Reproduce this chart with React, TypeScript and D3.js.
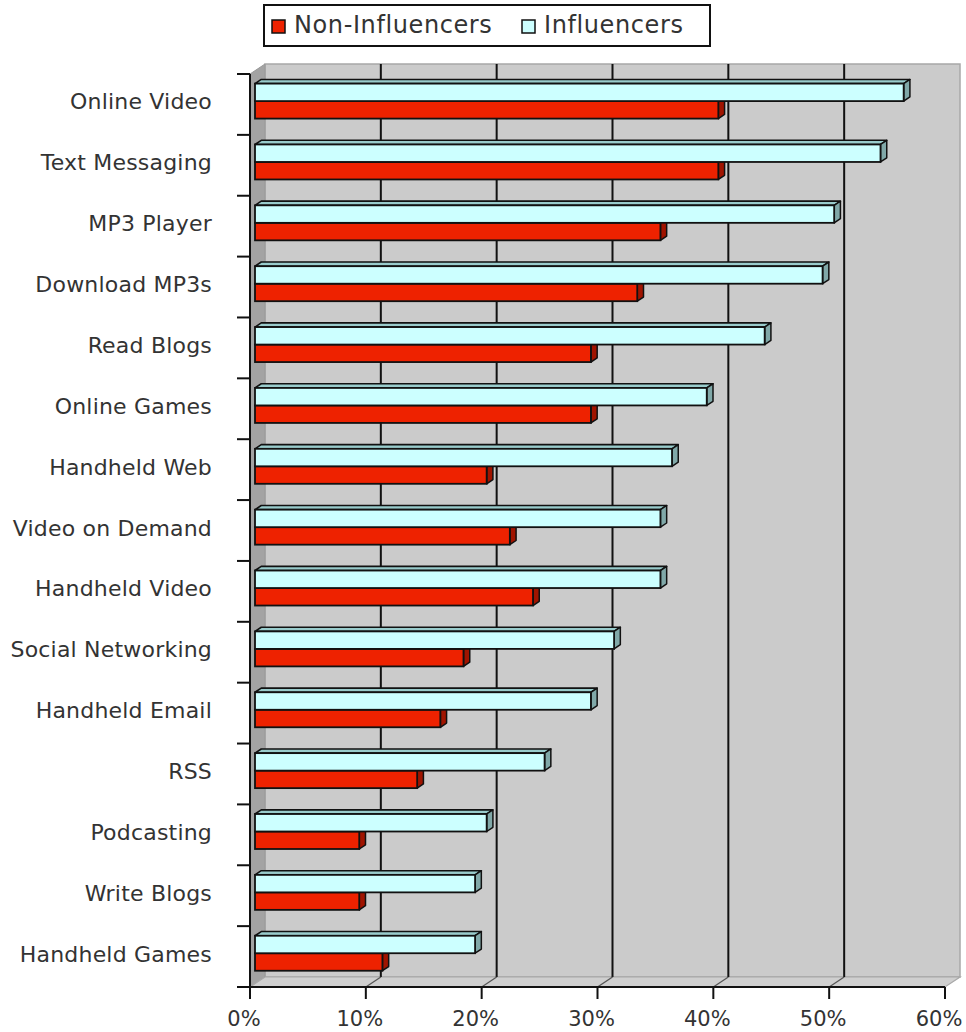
import React from 'react';
import * as d3 from 'd3';

const categories = [
  'Online Video', 'Text Messaging', 'MP3 Player', 'Download MP3s', 'Read Blogs',
  'Online Games', 'Handheld Web', 'Video on Demand', 'Handheld Video', 'Social Networking',
  'Handheld Email', 'RSS', 'Podcasting', 'Write Blogs', 'Handheld Games',
];
const influencers = [56, 54, 50, 49, 44, 39, 36, 35, 35, 31, 29, 25, 20, 19, 19];
const nonInfluencers = [40, 40, 35, 33, 29, 29, 20, 22, 24, 18, 16, 14, 9, 9, 11];
const xTicks = [0, 10, 20, 30, 40, 50, 60];
const seriesNames = ['Non-Influencers', 'Influencers'];

const FONT = '"DejaVu Sans", Verdana, sans-serif';

export default function App() {
  const W = 966, H = 1032;
  const x0 = 250, x1 = 945, yTop = 74, yBot = 987;
  const DX = 15, DY = -10;
  const x = d3.scaleLinear().domain([0, 60]).range([x0, x1]);
  const y = d3.scaleBand().domain(categories).range([yTop, yBot]).padding(0);
  const bw = y.bandwidth();
  const barH = bw * 0.2875;
  const f1 = 1 / 3, f2 = 0.75;
  const ox1 = DX * f1, oy1 = DY * f1;
  const bdx = DX * (f2 - f1), bdy = DY * (f2 - f1);

  const colors = {
    red: { front: '#ee2200', top: '#c01a00', side: '#a01400' },
    cyan: { front: '#ccffff', top: '#99cccc', side: '#80a8a8' },
  };

  const bar = (key: string, v: number, yt: number, c: { front: string; top: string; side: string }) => {
    const xl = x(0) + ox1;
    const xr = x(v) + ox1;
    const t = yt + oy1;
    const pt = (a: number[][]) => a.map(p => p.join(',')).join(' ');
    return (
      <g key={key}>
        <polygon points={pt([[xl, t], [xr, t], [xr + bdx, t + bdy], [xl + bdx, t + bdy]])} fill={c.top} stroke="#111" strokeWidth={1.6} strokeLinejoin="round" />
        <polygon points={pt([[xr, t], [xr + bdx, t + bdy], [xr + bdx, t + bdy + barH], [xr, t + barH]])} fill={c.side} stroke="#111" strokeWidth={1.5} strokeLinejoin="round" />
        <rect x={xl} y={t} width={xr - xl} height={barH} fill={c.front} stroke="#111" strokeWidth={1.8} />
      </g>
    );
  };

  const backL = x0 + DX, backR = x1 + DX, backT = yTop + DY, backB = yBot + DY;

  return (
    <svg width={W} height={H} style={{ position: 'absolute', left: 0, top: 0, background: '#fff' }} fontFamily={FONT}>
      {/* back wall */}
      <rect x={backL} y={backT} width={backR - backL} height={backB - backT} fill="#cbcbcb" stroke="#a8a8a8" strokeWidth={1.5} />
      {/* left wall */}
      <polygon points={`${x0},${yTop} ${backL},${backT} ${backL},${backB} ${x0},${yBot}`} fill="#a3a3a3" stroke="#999" strokeWidth={1} />
      {/* floor */}
      <polygon points={`${x0},${yBot} ${x1},${yBot} ${backR},${backB} ${backL},${backB}`} fill="#cfcfcf" stroke="#a8a8a8" strokeWidth={1.2} />
      {/* gridlines */}
      {xTicks.slice(1, -1).map(t => (
        <g key={'g' + t}>
          <line x1={x(t) + DX} x2={x(t) + DX} y1={backT} y2={backB} stroke="#111" strokeWidth={2} />
          <line x1={x(t)} y1={yBot} x2={x(t) + DX} y2={backB} stroke="#555" strokeWidth={1.3} />
        </g>
      ))}
      {/* bars */}
      {categories.map((cat, i) => {
        const b = y(cat)!;
        const start = b + (bw - 2 * barH) / 2;
        return (
          <g key={cat}>
            {bar(cat + 'n', nonInfluencers[i], start + barH, colors.red)}
            {bar(cat + 'i', influencers[i], start, colors.cyan)}
          </g>
        );
      })}
      {/* left axis */}
      <line x1={x0} x2={x0} y1={yTop} y2={yBot} stroke="#111" strokeWidth={2} />
      {[...categories.map(c => y(c)!), yBot].map((yy, i) => (
        <line key={'lt' + i} x1={x0 - 13} x2={x0} y1={yy} y2={yy} stroke="#111" strokeWidth={2} />
      ))}
      {categories.map(cat => (
        <text key={'l' + cat} x={212} y={y(cat)! + bw / 2 + 5} textAnchor="end" fontSize={22} letterSpacing={0.2} fill="#333">{cat}</text>
      ))}
      {/* bottom axis */}
      <line x1={x0} x2={x1} y1={yBot} y2={yBot} stroke="#111" strokeWidth={2} />
      {xTicks.map(t => (
        <g key={'xt' + t}>
          <line x1={x(t)} x2={x(t)} y1={yBot} y2={yBot + 12} stroke="#111" strokeWidth={2} />
          <text x={x(t) - 6} y={1026} textAnchor="middle" fontSize={21} fill="#333">{t + '%'}</text>
        </g>
      ))}
      {/* legend */}
      <rect x={264} y={5} width={446} height={41} fill="#fff" stroke="#111" strokeWidth={2} />
      <rect x={272} y={20} width={13} height={13} fill={colors.red.front} stroke="#111" strokeWidth={1.5} />
      <text x={294} y={33} fontSize={24} letterSpacing={0.6} fill="#333">{seriesNames[0]}</text>
      <rect x={522} y={20} width={13} height={13} fill={colors.cyan.front} stroke="#111" strokeWidth={1.5} />
      <text x={544} y={33} fontSize={24} letterSpacing={0.6} fill="#333">{seriesNames[1]}</text>
    </svg>
  );
}
